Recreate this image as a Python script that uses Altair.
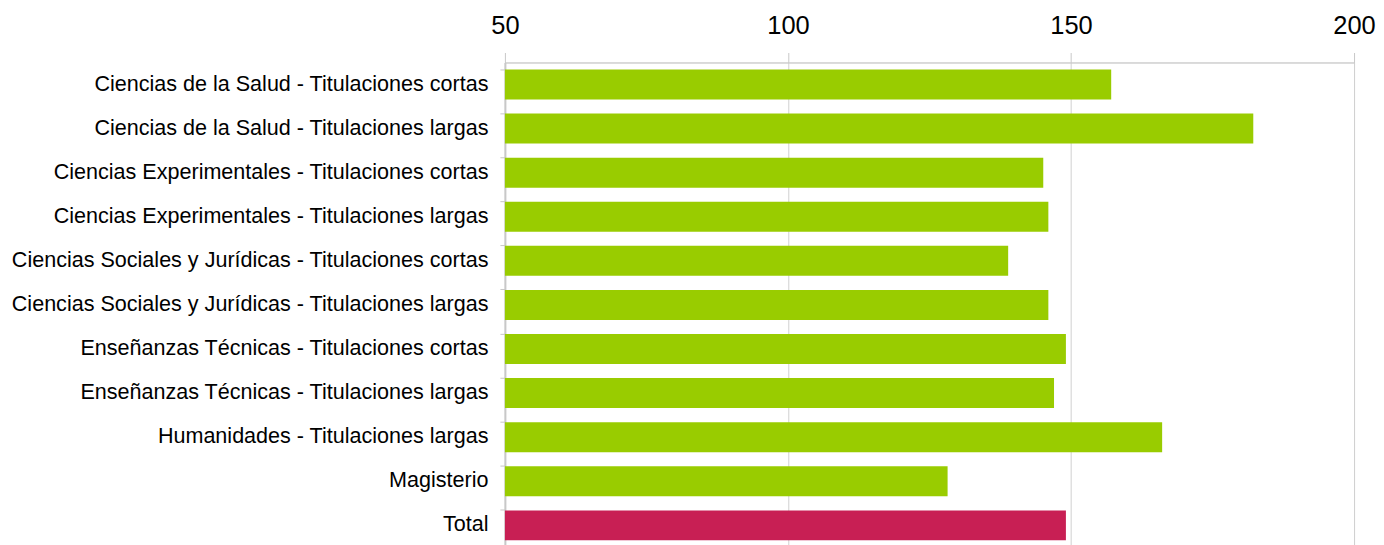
import altair as alt
import pandas as pd

categories = [
    "Ciencias de la Salud - Titulaciones cortas",
    "Ciencias de la Salud - Titulaciones largas",
    "Ciencias Experimentales - Titulaciones cortas",
    "Ciencias Experimentales - Titulaciones largas",
    "Ciencias Sociales y Jurídicas - Titulaciones cortas",
    "Ciencias Sociales y Jurídicas - Titulaciones largas",
    "Enseñanzas Técnicas - Titulaciones cortas",
    "Enseñanzas Técnicas - Titulaciones largas",
    "Humanidades - Titulaciones largas",
    "Magisterio",
    "Total",
]
values = [157.1, 182.2, 145.1, 146.0, 138.9, 146.0, 149.1, 147.0, 166.1, 128.2, 149.1]
groups = ["area"] * 10 + ["total"]
x_ticks = [50, 100, 150, 200]

df = pd.DataFrame({"cat": categories, "val": values, "grp": groups})

chart = alt.Chart(df).mark_bar(clip=True).encode(
    y=alt.Y("cat:N", sort=categories, title=None,
            scale=alt.Scale(paddingInner=0.32, paddingOuter=0.16),
            axis=alt.Axis(labelFont="Liberation Sans", labelFontSize=21.6, labelColor="#000000",
                          labelPadding=12, tickSize=5, tickColor="#c8c8c8", domainColor="#c8c8c8",
                          domainWidth=2, bandPosition=0, labelLimit=700, grid=False)),
    x=alt.X("val:Q", title=None,
            scale=alt.Scale(domain=[50, 200], nice=False, zero=False),
            axis=alt.Axis(orient="top", values=x_ticks, labelFont="Liberation Sans",
                          labelFontSize=25.5, labelColor="#000000", labelPadding=14,
                          tickSize=10, tickColor="#c8c8c8", domainColor="#c8c8c8",
                          gridColor="#d0d0d0", grid=True, labelFlush=False)),
    color=alt.Color("grp:N", scale=alt.Scale(domain=["area", "total"], range=["#99CC00", "#C81F54"]),
                    legend=None),
).properties(
    width=851, height=486,
    padding={"left": 2, "top": 5, "right": 0, "bottom": 0},
).configure_view(stroke=None).configure(background="white")

chart.save("out.html", embed_options={"renderer": "svg", "actions": False})
